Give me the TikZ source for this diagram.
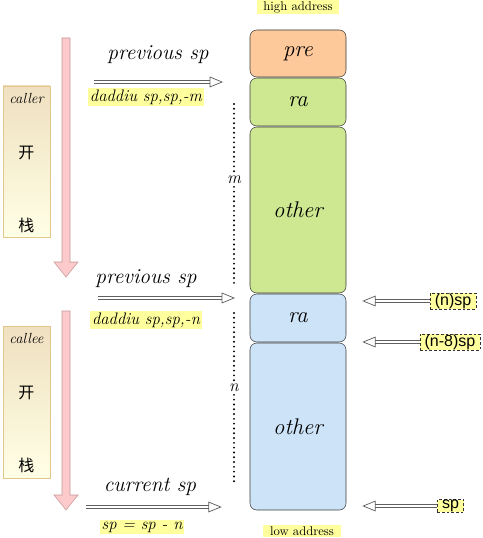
\documentclass[tikz,border=0pt]{standalone}
\usepackage{fontspec}
\newfontfamily\cjk{Noto Sans CJK SC}
\newfontfamily\arial{Liberation Sans}
\usetikzlibrary{arrows.meta,positioning}

\definecolor{preorange}{HTML}{FDC89A}
\definecolor{ragreen}{HTML}{CDE891}
\definecolor{calleeblue}{HTML}{CCE3F8}
\definecolor{hiyellow}{HTML}{FFFF9E}
\definecolor{pinkfill}{HTML}{FCCACA}
\definecolor{pinkline}{HTML}{C49696}
\definecolor{framegray}{HTML}{3C3C3C}
\definecolor{panelline}{HTML}{E2C68C}

\tikzset{
  slot/.style={draw=framegray, rounded corners=5pt, minimum width=72pt, inner sep=0pt,
    font=\fontsize{17}{20}\selectfont\itshape},
  spline/.style={draw=gray!75!black, double=white, double distance=1.6pt, line width=0.55pt,
    -{Triangle[open, length=10pt, width=8pt]}},
  spname/.style={font=\fontsize{16}{19}\selectfont\itshape, inner sep=0pt},
  hilite/.style={fill=hiyellow, inner sep=1.5pt, font=\fontsize{12.5}{15}\selectfont\itshape},
  addr/.style={fill=hiyellow, inner xsep=5pt, inner ysep=1pt, font=\fontsize{9.5}{11}\selectfont},
  tag/.style={draw=black!80, dash pattern=on 2pt off 1.5pt, fill=hiyellow, inner xsep=3.5pt,
    inner ysep=0.3pt, font=\arial\fontsize{12}{13}\selectfont},
  panel/.style={draw=panelline, top color=panelline!55, bottom color=white!90!yellow,
    minimum width=35.25pt, inner sep=0pt},
  sizemark/.style={line width=1.6pt, dash pattern=on 0pt off 3.6pt, line cap=round},
  stepword/.style={font=\fontsize{11}{13}\selectfont\itshape, inner sep=0pt},
  sizeword/.style={font=\fontsize{13}{15}\selectfont\itshape, inner sep=2pt},
  hanzi/.style={font=\cjk\fontsize{12}{14}\selectfont, inner sep=0pt}
}

\begin{document}
\begin{tikzpicture}[x=0.75pt, y=-0.75pt]
\useasboundingbox (0,0) rectangle (482,538);

% stack slots
\node[slot, fill=preorange, minimum height=35.25pt] (pre) at (298,53.5) {pre};
\node[slot, fill=ragreen, minimum height=36pt] (ra1) at (298,102) {ra};
\node[slot, fill=ragreen, minimum height=124.5pt] (other1) at (298,210) {other};
\node[slot, fill=calleeblue, minimum height=36pt] (ra2) at (298,318) {ra};
\node[slot, fill=calleeblue, minimum height=125.25pt] (other2) at (298,426.5) {other};

\node[addr] (high) at (298,7) {high address};
\node[addr] (low) at (302,531) {low address};

% frame sizes
\node[sizeword] (m) at (234,180) {m};
\node[sizeword] (n) at (234,388) {n};
\coordinate (mtop) at (234,104);
\coordinate (mbot) at (234,287);
\coordinate (ntop) at (234,313);
\coordinate (nbot) at (234,486);
\draw[sizemark] (mtop) -- (m.north);
\draw[sizemark] (m.south) -- (mbot);
\draw[sizemark] (ntop) -- (n.north);
\draw[sizemark] (n.south) -- (nbot);

% caller / callee panels
\node[panel, minimum height=113.25pt] (caller) at (26.5,161.5) {};
\node[stepword] (callername) at (26.5,98) {caller};
\node[hanzi] (kai1) at (26.5,153) {开};
\node[hanzi] (zhan1) at (26.5,225) {栈};

\node[panel, minimum height=114pt] (callee) at (26.5,402) {};
\node[stepword] (calleename) at (26.5,338) {callee};
\node[hanzi] (kai2) at (26.5,393) {开};
\node[hanzi] (zhan2) at (26.5,465) {栈};

% growth direction
\draw[pinkline, fill=pinkfill] (62,38) -- (70,38) -- (70,262) -- (78,262) -- (66,277)
  -- (54,262) -- (62,262) -- cycle;
\draw[pinkline, fill=pinkfill] (62,311) -- (70,311) -- (70,495) -- (78,495) -- (66,510)
  -- (54,495) -- (62,495) -- cycle;

% sp moves
\node[spname] (prev1) at (158,55) {previous sp};
\node[hilite] (ddm) at (146,97) {daddiu sp,sp,-m};
\coordinate (a1) at (94,82);
\draw[spline, shorten >=20pt] (a1) -- (a1 -| pre.west);

\node[spname] (prev2) at (146,279) {previous sp};
\node[hilite] (ddn) at (146,320) {daddiu sp,sp,-n};
\coordinate (a2) at (98,298);
\draw[spline, shorten >=11pt] (a2) -- (a2 -| ra2.west);

\node[spname] (cur) at (150,487) {current sp};
\node[hilite] (upd) at (142,527) {sp = sp - n};
\coordinate (a3) at (86,507);
\draw[spline, shorten >=21pt] (a3) -- (a3 -| other2.west);

% offsets
\node[tag] (nsp) at (453,301) {(n)sp};
\node[tag] (n8sp) at (450,342) {(n-8)sp};
\node[tag] (spt) at (450.5,506) {sp};
\draw[spline, shorten >=12pt] (nsp.west) -- (nsp.west -| ra2.east);
\draw[spline, shorten >=12pt] (n8sp.west) -- (n8sp.west -| ra2.east);
\draw[spline, shorten >=12pt] (spt.west) -- (spt.west -| other2.east);

\end{tikzpicture}
\end{document}
